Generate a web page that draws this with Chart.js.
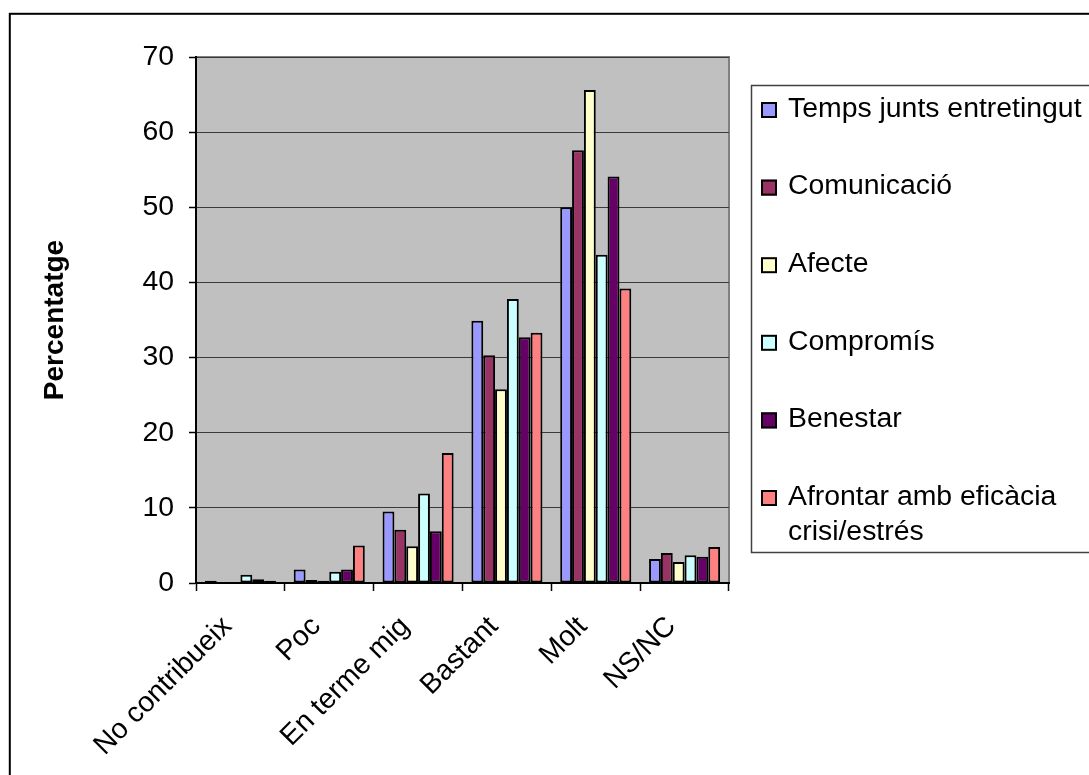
<!DOCTYPE html>
<html>
<head>
<meta charset="utf-8">
<title>Percentatge</title>
<script src="https://cdn.jsdelivr.net/npm/chart.js@4.4.1/dist/chart.umd.min.js"></script>
<style>
  html, body { margin: 0; padding: 0; background: #fff; overflow: hidden; }
  #wrap { position: relative; width: 1089px; height: 775px; }
  canvas { display: block; }
</style>
</head>
<body>
<div id="wrap"><canvas id="chart" width="1089" height="775"></canvas></div>
<script>
// Categories on the x axis
const categories = ['No contribueix', 'Poc', 'En terme mig', 'Bastant', 'Molt', 'NS/NC'];

// Series names
const seriesNames = [
  'Temps junts entretingut',
  'Comunicació',
  'Afecte',
  'Compromís',
  'Benestar',
  'Afrontar amb eficàcia crisi/estrés'
];

// Values (%) per series, in category order
const tempsJunts   = [0.3, 1.8,  9.5, 34.9, 50.0, 3.2];
const comunicacio  = [0.0, 0.4,  7.1, 30.3, 57.6, 4.0];
const afecte       = [0.0, 0.3,  4.9, 25.8, 65.6, 2.8];
const compromis    = [1.1, 1.5, 11.9, 37.8, 43.7, 3.7];
const benestar     = [0.5, 1.8,  6.9, 32.7, 54.1, 3.5];
const afrontar     = [0.3, 5.0, 17.3, 33.3, 39.2, 4.8];

// Value axis ticks
const yMin = 0;
const yMax = 70;
const yStep = 10;

const seriesValues = [tempsJunts, comunicacio, afecte, compromis, benestar, afrontar];
const seriesColors = ['#9999FF', '#993366', '#FFFFCC', '#CCFFFF', '#660066', '#FF8080'];

const FONT = '"Liberation Sans", Arial, Helvetica, sans-serif';
const TEXT_SIZE = 28.4;

// White page, outer frame and grey plot area
const framePlugin = {
  id: 'frame',
  beforeDraw(chart) {
    const { ctx, chartArea: a } = chart;
    ctx.save();
    ctx.fillStyle = '#ffffff';
    ctx.fillRect(0, 0, chart.width, chart.height);
    ctx.strokeStyle = '#000000';
    ctx.lineWidth = 2;
    ctx.strokeRect(9.8, 13.8, 1300, 1000);
    ctx.fillStyle = '#C0C0C0';
    ctx.fillRect(a.left, a.top, a.right - a.left, a.bottom - a.top);
    ctx.strokeStyle = '#808080';
    ctx.lineWidth = 2;
    ctx.strokeRect(a.left, a.top, a.right - a.left, a.bottom - a.top);
    ctx.restore();
  }
};

function wrapText(ctx, text, maxWidth) {
  const words = text.split(' ');
  const lines = [];
  let line = '';
  for (const w of words) {
    const test = line ? line + ' ' + w : w;
    if (line && ctx.measureText(test).width > maxWidth) {
      lines.push(line);
      line = w;
    } else {
      line = test;
    }
  }
  if (line) lines.push(line);
  return lines;
}

// Boxed legend to the right of the plot
const legendPlugin = {
  id: 'boxLegend',
  afterDraw(chart) {
    const ctx = chart.ctx;
    ctx.save();
    ctx.strokeStyle = '#404040';
    ctx.lineWidth = 1.5;
    ctx.strokeRect(751.5, 85.5, 500, 467);
    ctx.font = TEXT_SIZE + 'px ' + FONT;
    ctx.textBaseline = 'middle';
    ctx.textAlign = 'left';
    chart.data.datasets.forEach((ds, i) => {
      const cy = 110 + i * 77.6;
      ctx.fillStyle = ds.backgroundColor;
      ctx.fillRect(761, cy - 8, 16, 16);
      ctx.strokeStyle = '#000';
      ctx.lineWidth = 2;
      ctx.strokeRect(762, cy - 7, 14, 14);
      ctx.fillStyle = '#000';
      wrapText(ctx, ds.label, 300).forEach((ln, k) => {
        ctx.fillText(ln, 788, cy - 1 + k * 35);
      });
    });
    ctx.restore();
  }
};

new Chart(document.getElementById('chart'), {
  type: 'bar',
  data: {
    labels: categories,
    datasets: seriesNames.map((name, i) => ({
      label: name,
      data: seriesValues[i],
      backgroundColor: seriesColors[i],
      borderColor: '#000000',
      borderWidth: 2,
      borderSkipped: false
    }))
  },
  options: {
    responsive: false,
    animation: false,
    events: [],
    layout: { padding: { left: 0, top: 57, right: 360, bottom: 0 } },
    plugins: {
      legend: { display: false },
      tooltip: { enabled: false }
    },
    datasets: {
      bar: { categoryPercentage: 0.8, barPercentage: 1.0 }
    },
    scales: {
      x: {
        offset: true,
        grid: {
          offset: true,
          drawOnChartArea: false,
          drawTicks: true,
          tickLength: 8,
          tickColor: '#000',
          tickWidth: 1.5
        },
        border: { display: true, color: '#000', width: 2 },
        ticks: {
          autoSkip: false,
          minRotation: 45,
          maxRotation: 45,
          padding: 19,
          labelOffset: -13,
          color: '#000',
          font: { family: FONT, size: TEXT_SIZE }
        },
        afterFit(scale) { scale.height = 192; }
      },
      y: {
        min: yMin,
        max: yMax,
        ticks: {
          stepSize: yStep,
          padding: 15,
          color: '#000',
          font: { family: FONT, size: TEXT_SIZE }
        },
        grid: {
          color: '#3a3a3a',
          lineWidth: 1,
          tickLength: 7,
          tickColor: '#000',
          tickWidth: 1.5
        },
        border: { display: true, color: '#000', width: 2 },
        title: {
          display: true,
          text: 'Percentatge',
          color: '#000',
          font: { family: FONT, size: 28, weight: 'bold' },
          padding: { top: 38.5, bottom: 0 }
        },
        afterFit(scale) { scale.width = 196; }
      }
    }
  },
  plugins: [framePlugin, legendPlugin]
});
</script>
</body>
</html>
